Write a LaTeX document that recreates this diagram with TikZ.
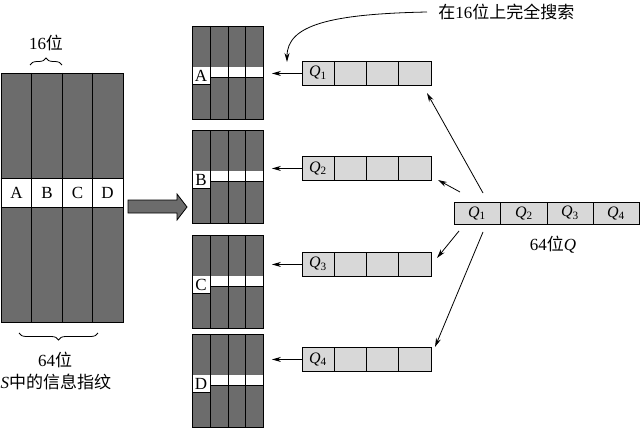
\documentclass[tikz,border=0pt]{standalone}
\usepackage{fontspec}
\setmainfont{Liberation Serif}
\newfontfamily\cjk{Noto Sans CJK SC}
\usetikzlibrary{arrows.meta,decorations.pathreplacing}
\definecolor{darkfill}{HTML}{6C6C6C}
\definecolor{lightfill}{HTML}{D8D8D8}
\begin{document}
\begin{tikzpicture}[x=1pt,y=-1pt,line width=0.9pt,
  lbl/.style={font=\fontsize{17}{20}\selectfont,inner sep=0pt},
  qlbl/.style={font=\fontsize{16}{18}\selectfont,inner sep=0pt},
  arr/.style={-{Stealth[length=9pt,width=5pt]},line width=0.8pt},
  frame/.style={draw,inner sep=0pt,anchor=north west},
  bracestyle/.style={decorate,decoration={brace,amplitude=7pt},line width=0.8pt}]
\useasboundingbox (0,0) rectangle (640,428);

% big table
\fill[darkfill] (0.5,73) rectangle (123,322);
\fill[white] (0.5,178) rectangle (123,207);
\foreach \x in {31,62,92} \draw (\x,73) -- (\x,322);
\draw (0.5,178) -- (123,178) (0.5,207) -- (123,207);
\node[frame,minimum width=122.5pt,minimum height=249pt] (big) at (0.5,73) {};
\node[lbl] (bA) at (16.5,192.5) {A};
\node[lbl] (bB) at (47,192.5) {B};
\node[lbl] (bC) at (77.5,192.5) {C};
\node[lbl] (bD) at (107.5,192.5) {D};

% braces and labels
\draw[bracestyle] (30,65) -- (62,65);
\node[lbl] (l16) at (46,43) {16{\cjk 位}};
\draw[bracestyle] (98,333) -- (19,333);
\node[lbl] (l64) at (55,360) {64{\cjk 位}};
\node[lbl] (lS) at (56,382) {{\itshape S}{\cjk 中的信息指纹}};

% big arrow
\draw[fill=darkfill,line width=0.8pt] (128,200) -- (177,200) -- (177,194) -- (187,207) -- (177,220) -- (177,213) -- (128,213) -- cycle;

% small tables
\foreach \tp/\L/\n in {26/A/1,130/B/2,235/C/3,334/D/4} {
  \fill[darkfill] (192,\tp) rectangle (263,\tp+93);
  \fill[white] (192,\tp+41) rectangle (263,\tp+51);
  \fill[white] (192,\tp+41) rectangle (210,\tp+58);
  \draw (210,\tp+51) -- (263,\tp+51);
  \draw (192,\tp+58) -- (210,\tp+58);
  \foreach \x in {210,228,245.5} \draw (\x,\tp) -- (\x,\tp+93);
  \node[lbl] (tl\n) at (201,\tp+50) {\L};
  \node[frame,minimum width=71pt,minimum height=93pt] (t\n) at (192,\tp) {};
}

% Q rows
\foreach \tp/\n in {61/1,156/2,252/3,347/4} {
  \node[frame,fill=lightfill,minimum width=129pt,minimum height=24pt] (q\n) at (302,\tp) {};
  \foreach \x in {334.25,366.5,398.75} \draw (\x,\tp) -- (\x,\tp+24);
  \node[qlbl] (ql\n) at (318,\tp+12) {{\itshape Q}\textsubscript{\n}};
  \draw[arr] (q\n.west) -- ([xshift=8pt]t\n.east |- q\n.west);
}

% big Q row
\node[frame,fill=lightfill,minimum width=185pt,minimum height=22pt] (bq) at (454,202) {};
\foreach \x in {500.5,547,593.5} \draw (\x,202) -- (\x,224);
\foreach \cx/\n in {477/1,524/2,570/3,616/4}
  \node[qlbl] (bql\n) at (\cx,213) {{\itshape Q}\textsubscript{\n}};
\node[lbl] (bqlab) at (553,245) {64{\cjk 位}{\itshape Q}};

% diagonal arrows
\coordinate (s1) at (483,193); \coordinate (e1) at (427,93);
\coordinate (s2) at (460,192); \coordinate (e2) at (438,180);
\coordinate (s3) at (459,231); \coordinate (e3) at (437,258);
\coordinate (s4) at (483,232); \coordinate (e4) at (435,347);
\foreach \i in {1,2,3,4} \draw[arr] (s\i) -- (e\i);

% search label and curved arrow
\node[lbl,anchor=west] (srch) at (438,12) {{\cjk 在}16{\cjk 位上完全搜索}};
\coordinate (ctip) at (287,62);
\draw[arr] ([xshift=-11pt]srch.west) .. controls (330,14) and (287,25) .. (ctip);
\end{tikzpicture}
\end{document}
